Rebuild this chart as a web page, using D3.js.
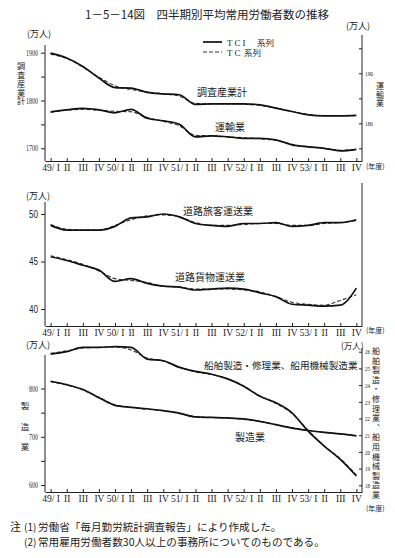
<!DOCTYPE html>
<html>
<head>
<meta charset="utf-8">
<script src="https://cdn.jsdelivr.net/npm/d3@7/dist/d3.min.js"></script>
<style>
body { margin: 0; background: #fff; }
svg text { fill: #222; }
.jp { font-family: "Noto Sans CJK JP", sans-serif; }
.serif { font-family: "Liberation Serif", serif; }
.axis path, .axis line { stroke: #222; stroke-width: 1; }
</style>
</head>
<body>
<svg id="vis" width="395" height="558"></svg>
<script>
// quarters of fiscal 49 - 53 (showa)
var quarters = ["49/ I","II","III","IV","50/ I","II","III","IV","51/ I","II","III","IV",
                "52/ I","II","III","IV","53/ I","II","III","IV"];

// panel 1 : 調査産業計 (left axis) / 運輸業 (right axis)
var total_tci = [1899,1889,1871,1847,1827,1826,1817,1814,1812,1792,1793,1793,1793,1791,1784,1777,1770,1768,1768,1769];
var total_tc  = [1897,1888,1870,1849,1831,1823,1818,1814,1809,1794,1793,1793,1792,1790,1784,1777,1771,1768,1768,1768];
var transport_tci = [182.3,182.7,183.0,182.7,182.1,182.8,181.0,180.5,179.8,177.3,177.5,177.3,177.0,177.0,176.7,175.7,175.3,175.0,174.5,174.8];
var transport_tc  = [182.2,182.6,182.8,182.6,182.4,182.3,181.2,180.4,179.5,177.6,177.5,177.3,177.1,176.9,176.6,175.8,175.3,175.0,174.6,174.7];

// panel 2 : 道路旅客運送業 / 道路貨物運送業
var passenger_tci = [48.8,48.3,48.3,48.3,48.7,49.6,49.7,50.0,49.7,49.0,48.8,48.7,49.0,49.0,49.1,48.7,48.8,49.1,49.1,49.4];
var passenger_tc  = [48.9,48.4,48.3,48.3,48.8,49.4,49.8,49.9,49.7,49.1,48.8,48.8,48.9,49.0,49.0,48.8,48.8,49.0,49.1,49.3];
var freight_tci = [45.5,45.1,44.6,44.1,42.9,43.2,42.7,42.4,42.3,42.0,42.1,42.2,42.1,41.7,41.3,40.5,40.4,40.3,40.4,42.2];
var freight_tc  = [45.6,45.2,44.7,44.0,43.2,43.0,42.8,42.4,42.3,42.1,42.1,42.1,42.0,41.8,41.3,40.7,40.5,40.4,40.9,41.5];

// panel 3 : 製造業 (left axis) / 船舶製造・修理業、船用機械製造業 (right axis)
var mfg_tci = [815,808,798,781,765,761,758,754,749,741,740,739,737,732,725,718,713,709,706,702];
var mfg_tc  = [814,807,797,782,766,761,757,754,748,742,740,739,736,732,725,719,713,709,706,702];
var ship_tci = [25.86,26.0,26.26,26.26,26.3,26.26,25.56,25.46,25.06,24.82,24.65,24.37,23.93,23.33,22.94,22.34,21.24,20.35,19.55,18.56];
var ship_tc  = [25.9,26.05,26.22,26.26,26.28,26.1,25.62,25.44,25.08,24.8,24.63,24.38,23.95,23.35,22.9,22.3,21.3,20.35,19.6,18.6];

var svg = d3.select("#vis");

var x = d3.scalePoint()
    .domain(d3.range(quarters.length))
    .range([45, 362])
    .padding(0.35);

function draw_xaxis(y, unit_y){
  var g = svg.append("g")
      .attr("class", "axis serif")
      .attr("transform", "translate(0," + y + ")")
      .call(d3.axisBottom(x).tickSize(-3).tickSizeOuter(0).tickPadding(3)
            .tickFormat(function(i){ return quarters[i]; }));
  g.selectAll("text").attr("font-size", 9.5).attr("font-family", "Liberation Serif").attr("fill", "#222");
  svg.append("text").attr("class", "jp")
      .attr("x", 366).attr("y", unit_y).attr("font-size", 7)
      .text("(年度)");
}

function draw_yaxis(scale, xpos, side, ticks, labels, top, bottom, fsize, tlen, family){
  var ax = side == "left" ? d3.axisLeft(scale).tickSize(4) : d3.axisRight(scale).tickSize(-3).tickPadding(3);
  ax.tickValues(ticks).tickFormat(function(d){ return labels.indexOf(d) >= 0 ? d : ""; });
  var g = svg.append("g")
      .attr("class", "axis")
      .attr("transform", "translate(" + xpos + ",0)")
      .call(ax);
  g.select(".domain").remove();
  g.append("line").attr("x1", 0).attr("x2", 0).attr("y1", top).attr("y2", bottom).attr("stroke", "#222");
  g.selectAll("text")
      .attr("font-size", fsize)
      .attr("font-family", family)
      .attr("fill", "#222")
      .filter(function(d){ return labels.indexOf(d) >= 0; })
      .attr("textLength", tlen)
      .attr("lengthAdjust", "spacingAndGlyphs");
}

function draw_pair(tci, tc, y){
  var line = d3.line()
      .x(function(d, i){ return x(i); })
      .y(function(d){ return y(d); })
      .curve(d3.curveMonotoneX);
  svg.append("path").datum(tc)
      .attr("d", line).attr("fill", "none")
      .attr("stroke", "#333").attr("stroke-width", 1.1)
      .attr("stroke-dasharray", "4,2");
  svg.append("path").datum(tci)
      .attr("d", line).attr("fill", "none")
      .attr("stroke", "#111").attr("stroke-width", 1.7);
}

function label(txt, lx, ly, size){
  svg.append("text").attr("class", "jp")
      .attr("x", lx).attr("y", ly).attr("font-size", size)
      .text(txt);
}

// vertical japanese text, one element
function vlabel(txt, lx, ly, spacing, size){
  svg.append("text").attr("class", "jp")
      .attr("x", lx).attr("y", ly)
      .attr("font-size", size)
      .style("writing-mode", "vertical-rl")
      .style("text-orientation", "upright")
      .attr("letter-spacing", spacing)
      .text(txt);
}

// title and legend
svg.append("text").attr("class", "jp")
    .attr("x", 85).attr("y", 19).attr("font-size", 11.5)
    .text("1－5－14図　四半期別平均常用労働者数の推移");

svg.append("line").attr("x1", 203).attr("x2", 222).attr("y1", 42).attr("y2", 42)
    .attr("stroke", "#111").attr("stroke-width", 1.7);
svg.append("line").attr("x1", 203).attr("x2", 222).attr("y1", 52).attr("y2", 52)
    .attr("stroke", "#333").attr("stroke-width", 1.1).attr("stroke-dasharray", "4,2");
svg.append("text").attr("class", "serif").attr("x", 227).attr("y", 45.5)
    .attr("font-size", 9).attr("letter-spacing", 2).text("TCI");
label("系列", 257, 45.5, 8.5);
svg.append("text").attr("class", "serif").attr("x", 227).attr("y", 55.5)
    .attr("font-size", 9).attr("letter-spacing", 2).text("TC");
label("系列", 244, 55.5, 8.5);

// panel 1
var y1L = d3.scaleLinear().domain([1700, 1900]).range([148.3, 52.7]);
var y1R = d3.scaleLinear().domain([175, 190]).range([148.3, 73.3]);
draw_yaxis(y1L, 45, "left", d3.range(1700, 1901, 50), [1700, 1800, 1900], 45, 161, 8, 12, "Liberation Serif");
draw_yaxis(y1R, 362, "right", d3.range(175, 196, 5), [180, 190], 35, 161, 7, 8, "Liberation Serif");
draw_xaxis(161, 169);
draw_pair(total_tci, total_tc, y1L);
draw_pair(transport_tci, transport_tc, y1R);
label("(万人)", 27, 37, 9);
label("(万人)", 346, 29, 9);
vlabel("調査産業計", 21, 62, 0.6, 8.2);
vlabel("運輸業", 380, 82, 0.5, 8);
label("調査産業計", 197, 96, 10);
label("運輸業", 215, 131, 10);

// panel 2
var y2 = d3.scaleLinear().domain([40, 50]).range([309, 214]);
draw_yaxis(y2, 45, "left", [40, 45, 50], [40, 45, 50], 202, 326, 10, 9, "Liberation Sans");
svg.append("line").attr("x1", 362).attr("x2", 362).attr("y1", 183).attr("y2", 326).attr("stroke", "#222");
draw_xaxis(326, 333);
draw_pair(passenger_tci, passenger_tc, y2);
draw_pair(freight_tci, freight_tc, y2);
label("(万人)", 26, 199, 9);
label("道路旅客運送業", 183, 215, 10);
label("道路貨物運送業", 175, 281, 10);

// panel 3
var y3L = d3.scaleLinear().domain([600, 800]).range([485, 388.5]);
var y3R = d3.scaleLinear().domain([18, 26]).range([485.3, 351.7]);
draw_yaxis(y3L, 45, "left", d3.range(600, 801, 50), [600, 700, 800], 355, 492, 8, 9, "Liberation Serif");
draw_yaxis(y3R, 362, "right", d3.range(18, 27, 1), d3.range(18, 27, 1), 348, 492, 7, 5, "Liberation Serif");
draw_xaxis(492, 511);
draw_pair(mfg_tci, mfg_tc, y3L);
draw_pair(ship_tci, ship_tc, y3R);
label("(万人)", 26, 348, 9);
label("(万人)", 341, 348.5, 8.5);
vlabel("製造業", 25, 402, 12, 8.5);
vlabel("船舶製造・修理業、船用機械製造業", 376, 347, 1.6, 8);
label("船舶製造・修理業、船用機械製造業", 204, 369, 9.6);
label("製造業", 235, 441, 10);

// notes
label("注", 10, 531, 11);
label("(1)", 24, 531, 10);
label("労働省「毎月勤労統計調査報告」により作成した。", 38, 531, 10.6);
label("(2)", 24, 546, 10);
label("常用雇用労働者数30人以上の事務所についてのものである。", 38, 546, 10.6);
</script>
</body>
</html>
